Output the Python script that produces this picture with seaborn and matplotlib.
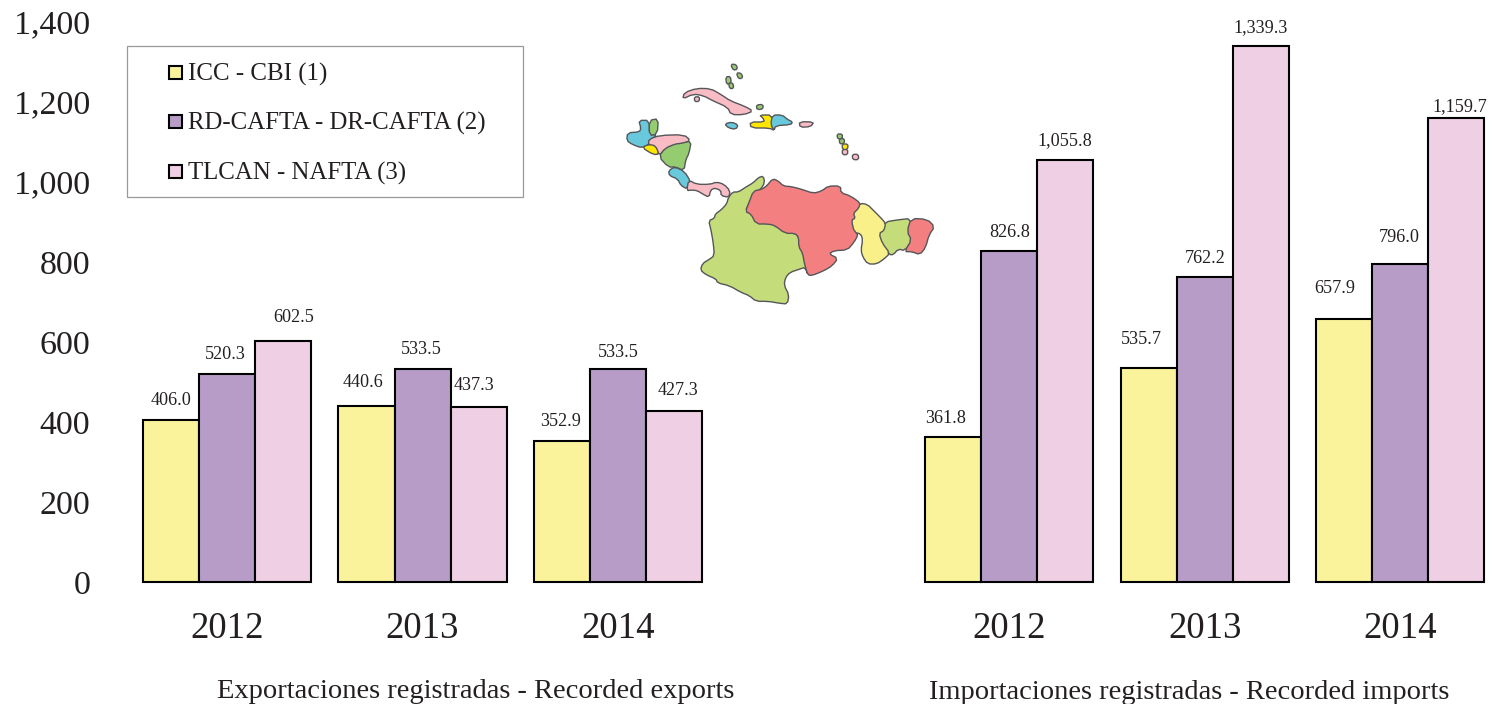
import matplotlib.pyplot as plt
import seaborn as sns
import pandas as pd
from matplotlib.patches import Rectangle

W, H = 1493, 704

slots = ["Exp 2012", "Exp 2013", "Exp 2014", "gap", "Imp 2012", "Imp 2013", "Imp 2014"]
slot_labels = ["2012", "2013", "2014", "", "2012", "2013", "2014"]
bar_slots = ["Exp 2012", "Exp 2013", "Exp 2014", "Imp 2012", "Imp 2013", "Imp 2014"]
agreements = ["ICC - CBI (1)", "RD-CAFTA - DR-CAFTA (2)", "TLCAN - NAFTA (3)"]
icc = [406.0, 440.6, 352.9, 361.8, 535.7, 657.9]
cafta = [520.3, 533.5, 533.5, 826.8, 762.2, 796.0]
nafta = [602.5, 437.3, 427.3, 1055.8, 1339.3, 1159.7]
y_ticks = [0, 200, 400, 600, 800, 1000, 1200, 1400]
captions = ["Exportaciones registradas - Recorded exports", "Importaciones registradas - Recorded imports"]

bar_colors = ["#FAF39B", "#B79CC8", "#EFCFE3"]
text_color = "#231F20"

# label nudges in pixels, the source places them by hand
label_dx = [[0, -3, -1, -8, -7, -9], [-2, -1, 0, 0, 0, -1], [11, -5, 4, 0, 0, 3]]
label_dy = [[19, 23, 19, 19, 28, 30], [19, 19, 16, 19, 19, 26], [24, 22, 21, 19, 19, 12]]

# map outlines (crop pixels, origin at 610,50, scale 3)
map_shapes = {
    "#C5DC7A": [
        [(460,378),(445,383),(430,398),(405,413),(385,426),(368,426),(355,443),(350,462),(333,480),(316,492),
         (313,505),(296,512),(303,540),(310,580),(313,617),(298,628),(278,640),(271,660),(288,674),(318,687),
         (323,699),(358,707),(393,727),(418,737),(438,754),(475,754),(510,760),(532,762),(537,735),(522,705),
         (527,682),(540,667),(570,657),(585,652),(595,677),(585,640),(580,610),(570,590),(568,565),(555,548),
         (525,548),(495,525),(475,520),(440,520),(425,490),(406,483),(420,455),(430,430),(452,418),(464,398)],
        [(825,516),(860,510),(905,505),(893,545),(907,570),(885,602),(865,597),(850,614),(838,614),(815,580),
         (803,550),(820,540)],
    ],
    "#F47F80": [
        [(406,485),(418,455),(430,423),(455,418),(470,408),(488,386),(505,393),(520,408),(545,410),(575,418),
         (610,430),(635,423),(655,408),(692,408),(692,428),(722,438),(752,460),(750,475),(734,490),(740,505),
         (728,510),(737,545),(744,555),(732,577),(712,600),(672,602),(657,612),(684,625),(667,647),(642,662),
         (605,677),(593,674),(583,640),(578,610),(566,590),(566,562),(555,550),(525,550),(495,527),(475,522),
         (438,522),(423,492)],
        [(903,505),(952,508),(974,530),(957,555),(947,592),(930,614),(905,605),(883,605),(905,570),(891,545)],
    ],
    "#FAF08A": [
        [(750,460),(772,463),(792,483),(812,503),(827,520),(822,542),(807,550),(817,580),(840,610),(822,627),
         (800,642),(773,642),(758,620),(753,600),(758,570),(753,552),(733,547),(724,510),(736,505),(730,490),
         (746,475)],
    ],
    "#68C8DC": [
        [(86,211),(118,211),(118,253),(142,255),(120,270),(118,282),(97,294),(68,284),(50,272),(53,248),(88,246),(93,235)],
        [(176,362),(195,350),(224,365),(242,395),(232,417),(213,407),(203,387),(178,377)],
        [(344,222),(365,216),(385,225),(377,238),(356,234)],
        [(487,195),(517,195),(532,208),(548,216),(542,224),(497,227),(492,242),(478,225)],
    ],
    "#96CC70": [
        [(118,211),(145,206),(142,252),(118,257)],
        [(146,320),(165,293),(195,280),(215,278),(244,273),(237,310),(227,330),(222,362),(195,350),(176,352)],
        [(362,43),(378,43),(383,57),(370,61)],
        [(379,69),(393,69),(399,83),(386,87)],
        [(347,81),(361,79),(364,98),(350,104)],
        [(356,99),(369,99),(371,115),(359,116)],
        [(439,165),(459,163),(459,177),(441,179)],
        [(681,252),(697,252),(697,266),(683,267)],
        [(688,266),(703,266),(703,280),(689,282)],
    ],
    "#F9BBC4": [
        [(116,268),(150,256),(222,254),(242,272),(215,280),(195,282),(165,295),(148,317),(135,292),(116,285)],
        [(236,390),(260,403),(300,403),(320,396),(342,403),(360,422),(357,442),(333,437),(333,422),(315,414),
         (302,420),(297,442),(278,432),(262,422),(245,420),(230,422)],
        [(218,147),(223,128),(260,115),(302,116),(332,133),(362,153),(402,168),(430,183),(402,194),(363,194),
         (353,172),(308,152),(280,137),(250,132)],
        [(568,215),(612,216),(602,230),(570,232)],
        [(253,141),(268,140),(268,154),(254,155)],
        [(697,298),(713,298),(713,314),(697,314)],
        [(727,313),(745,313),(746,329),(728,329)],
    ],
    "#FFE600": [
        [(95,292),(118,283),(137,288),(147,312),(130,314)],
        [(448,195),(487,195),(482,225),(494,242),(478,234),(423,234),(420,216),(463,216),(460,205)],
        [(696,282),(714,282),(713,298),(698,299)],
    ],
}


# corner cutting so the traced outlines lose their straight edges
def soften(shape):
    out = []
    for a, b in zip(shape, shape[1:] + shape[:1]):
        out.append((0.75 * a[0] + 0.25 * b[0], 0.75 * a[1] + 0.25 * b[1]))
        out.append((0.25 * a[0] + 0.75 * b[0], 0.25 * a[1] + 0.75 * b[1]))
    return out


sns.set_theme(style="white")
plt.rcParams["font.family"] = ["Liberation Serif", "DejaVu Serif"]
plt.rcParams["text.color"] = text_color

df = pd.DataFrame({
    "slot": bar_slots * 3,
    "agreement": [a for a in agreements for _ in bar_slots],
    "value": icc + cafta + nafta,
})

fig = plt.figure(figsize=(W / 100, H / 100), dpi=100, facecolor="white")
ax = fig.add_axes([100 / W, 1 - 582 / H, (W - 100) / W, (582 - 22) / H])
sns.barplot(data=df, x="slot", y="value", hue="agreement", order=slots, hue_order=agreements,
            palette=bar_colors, width=0.86, gap=0, saturation=1, edgecolor="black", linewidth=1.5,
            legend=False, ax=ax)

ax.set_xlim((100 - 227) / 195.55, (W - 227) / 195.55)
ax.set_ylim(0, 1400)
ax.set_xticks(range(len(slots)))
ax.set_xticklabels(slot_labels)
ax.set_yticks(y_ticks)
ax.set_yticklabels([f"{v:,}" for v in y_ticks])
ax.tick_params(axis="x", length=0, pad=21, labelsize=26.5, labelcolor=text_color)
ax.tick_params(axis="y", length=0, pad=7, labelsize=24.5, labelcolor=text_color)
ax.set_xlabel("")
ax.set_ylabel("")
ax.patch.set_alpha(0)
sns.despine(ax=ax, left=True, bottom=True, top=True, right=True)

# value labels above the bars
for h, container in enumerate(ax.containers):
    bars = sorted(container.patches, key=lambda b: b.get_x())
    for i, bar in enumerate(bars):
        bar.set_clip_on(False)
        ax.annotate(f"{bar.get_height():,.1f}",
                    (bar.get_x() + bar.get_width() / 2, bar.get_height()),
                    xytext=(label_dx[h][i], label_dy[h][i]), textcoords="offset pixels",
                    ha="center", va="center", fontsize=13.1, color=text_color)

# overlay in picture pixels for the map, legend box and captions
over = fig.add_axes([0, 0, 1, 1], zorder=5)
over.set_xlim(0, W)
over.set_ylim(H, 0)
over.axis("off")

for color, shapes in map_shapes.items():
    for shape in shapes:
        smooth = soften(shape)
        xs = [610 + p[0] / 3 for p in smooth]
        ys = [50 + p[1] / 3 for p in smooth]
        over.fill(xs, ys, facecolor=color, edgecolor="#55565A", linewidth=1.0, joinstyle="round")

over.add_patch(Rectangle((126.5, 46), 396, 151, facecolor="white", edgecolor="#999999", linewidth=0.9))
legend_y = [73, 122, 172]
for color, name, y in zip(bar_colors, agreements, legend_y):
    over.add_patch(Rectangle((169, y - 7), 13, 13, facecolor=color, edgecolor="black", linewidth=1.5))
    over.text(188, y + 1, name, ha="left", va="center", fontsize=17.9, color=text_color)

over.text(476, 692, captions[0], ha="center", va="center", fontsize=20.5, color=text_color)
over.text(1189, 692.5, captions[1], ha="center", va="center", fontsize=20.5, color=text_color)

fig.savefig("out.png", dpi=100)
